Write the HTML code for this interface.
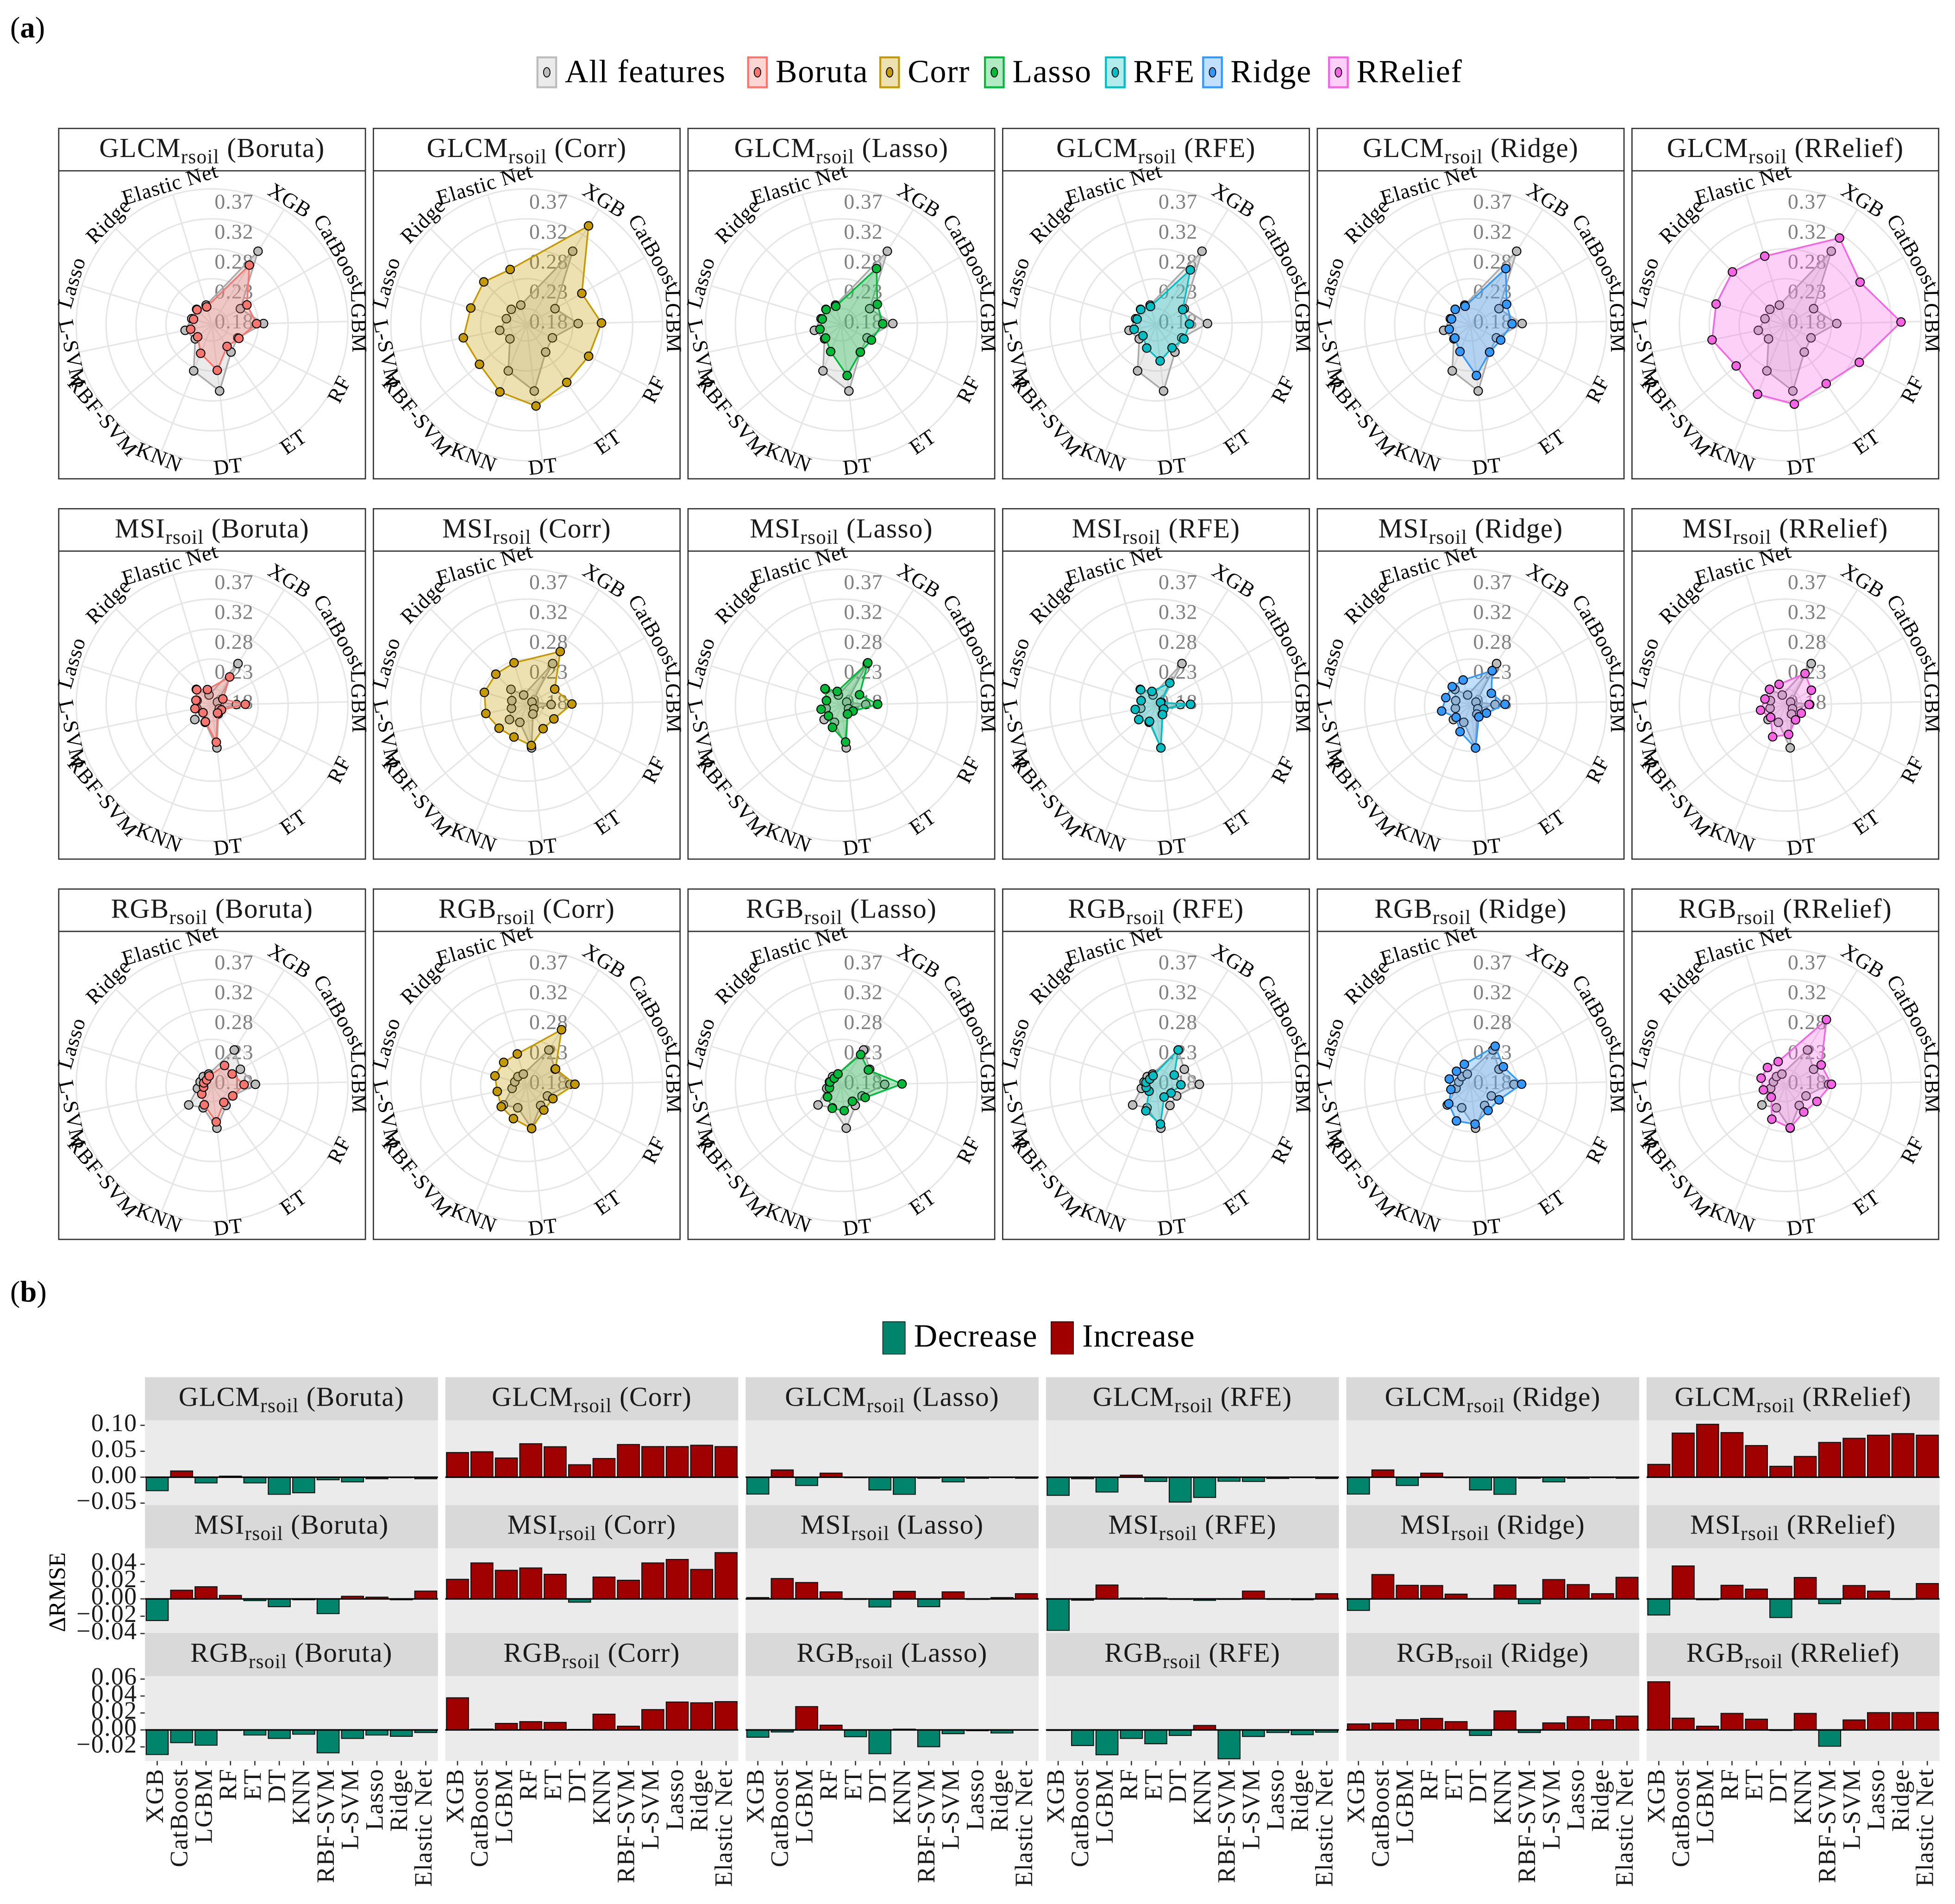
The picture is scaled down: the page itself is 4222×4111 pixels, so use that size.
<!DOCTYPE html>
<html><head><meta charset="utf-8"><title>Radar and ΔRMSE charts</title>
<style>
html,body{margin:0;padding:0;background:#fff;}
svg{display:block;font-family:"Liberation Serif",serif;}
</style></head>
<body>
<svg id="fig" xmlns="http://www.w3.org/2000/svg" width="4222" height="4111" viewBox="0 0 1568 1527">
<rect x="0" y="0" width="1568" height="1527" fill="#fff"/>
<text x="8" y="30" font-size="24">(<tspan font-weight="bold">a</tspan>)</text>
<text x="8" y="1044" font-size="24">(<tspan font-weight="bold">b</tspan>)</text>
<g id="legendA"></g>
<g id="radars"></g>
<g id="legendB"></g>
<g id="bars"></g>
<text x="0" y="0" font-size="19" text-anchor="middle" transform="translate(52,1277) rotate(-90)">ΔRMSE</text>
</svg>
<script>
const models = ['XGB','CatBoost','LGBM','RF','ET','DT','KNN','RBF-SVM','L-SVM','Lasso','Ridge','Elastic Net'];
const methods = ['Boruta','Corr','Lasso','RFE','Ridge','RRelief'];
const datasets = ['GLCM','MSI','RGB'];
const radialBreaks = [0.18, 0.2275, 0.275, 0.3225, 0.37];
const radialLabels = ['0.18','0.23','0.28','0.32','0.37'];

// "All features" RMSE per dataset
const grayGLCM = [0.292,0.206,0.236,0.200,0.207,0.260,0.233,0.189,0.198,0.188,0.189,0.187];
const grayMSI  = [0.232,0.164,0.193,0.167,0.1715,0.2226,0.1837,0.190,0.179,0.179,0.1897,0.171];
const grayRGB  = [0.2206,0.206,0.2231,0.1911,0.193,0.2226,0.1925,0.2026,0.178,0.174,0.174,0.173];

// ΔRMSE (selected features − all features)
const dGLCMBoruta  = [-0.026,0.012,-0.011,0.002,-0.011,-0.033,-0.030,-0.005,-0.009,-0.003,-0.001,-0.003];
const dGLCMCorr    = [0.0475,0.049,0.037,0.0645,0.0587,0.024,0.036,0.063,0.059,0.059,0.0616,0.059];
const dGLCMLasso   = [-0.0325,0.014,-0.016,0.0078,0,-0.0247,-0.033,-0.002,-0.009,-0.002,-0.0005,-0.002];
const dGLCMRFE     = [-0.035,-0.003,-0.0286,0.0039,-0.0082,-0.048,-0.039,-0.0078,-0.0082,-0.0024,-0.0005,-0.0024];
const dGLCMRidge   = [-0.0325,0.014,-0.016,0.0078,0,-0.0247,-0.033,-0.002,-0.009,-0.002,0,-0.002];
const dGLCMRRelief = [0.0247,0.085,0.102,0.086,0.061,0.021,0.040,0.067,0.075,0.081,0.084,0.081];
const dMSIBoruta   = [-0.025,0.010,0.014,0.004,-0.002,-0.009,-0.001,-0.017,0.003,0.002,-0.001,0.009];
const dMSICorr     = [0.0226,0.0415,0.033,0.0357,0.0284,-0.0038,0.0252,0.0215,0.0415,0.0455,0.034,0.0534];
const dMSILasso    = [0.0015,0.0235,0.0189,0.0081,0,-0.0093,0.0087,-0.009,0.0081,0,0.0015,0.006];
const dMSIRFE      = [-0.0363,-0.0015,0.016,0.001,0.001,0,-0.0017,0,0.009,0,-0.001,0.006];
const dMSIRidge    = [-0.0133,0.0281,0.0157,0.0154,0.0055,0.0003,0.016,-0.0055,0.0223,0.0165,0.006,0.0249];
const dMSIRRelief  = [-0.0186,0.038,-0.001,0.0157,0.0113,-0.0215,0.0247,-0.0055,0.0154,0.009,0,0.0177];
const dRGBBoruta   = [-0.029,-0.015,-0.018,0,-0.006,-0.010,-0.005,-0.027,-0.010,-0.006,-0.0075,-0.003];
const dRGBCorr     = [0.0379,0.001,0.0077,0.0098,0.0089,0.0006,0.0186,0.0044,0.024,0.0329,0.032,0.0334];
const dRGBLasso    = [-0.0086,-0.0024,0.0275,0.0056,-0.008,-0.028,0.0009,-0.0198,-0.0044,-0.0009,-0.0036,0.0003];
const dRGBRFE      = [0,-0.0184,-0.0293,-0.01,-0.0163,-0.0065,0.0053,-0.034,-0.0077,-0.003,-0.0056,-0.0027];
const dRGBRidge    = [0.0071,0.008,0.0121,0.0136,0.0098,-0.0065,0.0225,-0.003,0.0083,0.0157,0.0121,0.0163];
const dRGBRRelief  = [0.0568,0.0139,0.0044,0.0195,0.0127,-0.0006,0.0195,-0.0192,0.0118,0.0204,0.0204,0.0207];

const barTicksGLCM = [0.10,0.05,0.00,-0.05];
const barTicksMSI = [0.04,0.02,0.00,-0.02,-0.04];
const barTicksRGB = [0.06,0.04,0.02,0.00,-0.02];
const barTickLabelsGLCM = ['0.10','0.05','0.00','\u22120.05'];
const barTickLabelsMSI = ['0.04','0.02','0.00','\u22120.02','\u22120.04'];
const barTickLabelsRGB = ['0.06','0.04','0.02','0.00','\u22120.02'];

const grays = [grayGLCM, grayMSI, grayRGB];
const deltas = [
  [dGLCMBoruta,dGLCMCorr,dGLCMLasso,dGLCMRFE,dGLCMRidge,dGLCMRRelief],
  [dMSIBoruta,dMSICorr,dMSILasso,dMSIRFE,dMSIRidge,dMSIRRelief],
  [dRGBBoruta,dRGBCorr,dRGBLasso,dRGBRFE,dRGBRidge,dRGBRRelief]
];
const barTicks = [barTicksGLCM, barTicksMSI, barTicksRGB];
const barTickLabels = [barTickLabelsGLCM, barTickLabelsMSI, barTickLabelsRGB];

const colors = ['#F8766D','#C49A00','#00BA38','#00BFC4','#3399FF','#F564E3'];
const NS = 'http://www.w3.org/2000/svg';
function mk(tag, attrs, parent){
  const e = document.createElementNS(NS, tag);
  for (const k in attrs) e.setAttribute(k, attrs[k]);
  if (parent) parent.appendChild(e);
  return e;
}
function titleText(parent, x, y, ds, meth, name){
  const t = mk('text', {x:x, y:y, 'font-size':22, 'letter-spacing':0.5, 'text-anchor':'middle', fill:'#1a1a1a'}, parent);
  
  
  t.appendChild(document.createTextNode(ds));
  const s = mk('tspan', {'font-size':16, dy:5}, t);
  s.textContent = 'rsoil';
  const m = mk('tspan', {dy:-5}, t);
  m.textContent = ' (' + meth + ')';
  return t;
}

// ---------- legend (a)
const legA = document.getElementById('legendA');
const legNames = ['All features'].concat(methods);
const legColors = ['#BDBDBD'].concat(colors);
const legX = [431, 600, 706, 790, 887, 965, 1066];
legNames.forEach((n, i) => {
  const g = mk('g', {}, legA);
  
  
  mk('rect', {x:legX[i], y:46, width:15, height:24, fill:legColors[i], 'fill-opacity':0.3, stroke:legColors[i], 'stroke-width':1.6}, g);
  mk('ellipse', {cx:legX[i]+7.5, cy:58, rx:2.6, ry:3.8, fill:legColors[i], stroke:'#000', 'stroke-width':0.7}, g);
  const t = mk('text', {x:legX[i]+22, y:66, 'font-size':26, 'letter-spacing':0.6}, g);
  t.textContent = n;
});

// ---------- radars
const radars = document.getElementById('radars');
function rScale(v){ return Math.max(0, 13 + (v - 0.18) / 0.19 * 96); }
function ang(i){ return (32 + 28.3 * i) * Math.PI / 180; }
for (let r = 0; r < 3; r++){
  for (let c = 0; c < 6; c++){
    const L = 47 + c * 252.4, T = 103 + r * 305, W = 246;
    const cx = L + 123, cy = T + 157.5;
    const g = mk('g', {}, radars);
    
    
    const tb = mk('rect', {x:L, y:T, width:W, height:34, fill:'#fff', stroke:'#333', 'stroke-width':1}, g);
    
    
    titleText(g, cx, T + 23, datasets[r], methods[c], 'radar-title');
    const pb = mk('rect', {x:L, y:T+34, width:W, height:247, fill:'#fff', stroke:'#333', 'stroke-width':1}, g);
    
    
    radialBreaks.forEach(b => {
      const ci = mk('circle', {cx:cx, cy:cy, r:rScale(b), fill:'none', stroke:'#e6e6e6', 'stroke-width':1.2}, g);
      
      
    });
    models.forEach((m, i) => {
      const a = ang(i);
      const sp = mk('line', {x1:cx, y1:cy, x2:cx + 109*Math.sin(a), y2:cy - 109*Math.cos(a), stroke:'#e6e6e6', 'stroke-width':1.2}, g);
      
      
      const deg = 32 + 28.3 * i;
      let rot = deg;
      if (deg > 90 && deg < 270) rot = deg - 180; else if (deg >= 270) rot = deg - 360;
      const lx = cx + 116*Math.sin(a), ly = cy - 116*Math.cos(a);
      const lt = mk('text', {x:lx, y:ly, 'font-size':17, 'letter-spacing':0.4, 'text-anchor':'middle', 'dominant-baseline':'middle', transform:'rotate(' + rot + ' ' + lx + ' ' + ly + ')'}, g);
      
      
      lt.textContent = m;
    });
    radialBreaks.forEach((b, k) => {
      const t = mk('text', {x:cx + 2, y:cy - (rScale(b) - 12), 'font-size':17, 'letter-spacing':0.4, fill:'#7f7f7f', 'dominant-baseline':'middle'}, g);
      
      
      t.textContent = radialLabels[k];
    });
    const gray = grays[r];
    const sel = gray.map((v, i) => v + deltas[r][c][i]);
    const series = [[gray, '#BDBDBD', '#aaaaaa', 'all-features'], [sel, colors[c], colors[c], methods[c].toLowerCase()]];
    series.forEach(([vals, col, lineCol, nm]) => {
      const pts = vals.map((v, i) => { const a = ang(i), rr = rScale(v); return [cx + rr*Math.sin(a), cy - rr*Math.cos(a)]; });
      const poly = mk('polygon', {points: pts.map(p => p[0].toFixed(2) + ',' + p[1].toFixed(2)).join(' '), fill:col, 'fill-opacity':0.3, stroke:lineCol, 'stroke-width':1.3}, g);
      
      
      pts.forEach((p, i) => {
        const pt = mk('circle', {cx:p[0], cy:p[1], r:3.4, fill:col, stroke:'#000', 'stroke-width':0.8}, g);
        
        
      });
    });
  }
}

// ---------- legend (b)
const legB = document.getElementById('legendB');
[['Decrease', '#00846B', 708], ['Increase', '#A00000', 843]].forEach(([n, col, x]) => {
  const g = mk('g', {}, legB);
  
  
  mk('rect', {x:x, y:1060, width:18, height:26, fill:col, stroke:'#000', 'stroke-width':0.5}, g);
  const t = mk('text', {x:x + 25, y:1080, 'font-size':26, 'letter-spacing':0.5}, g);
  t.textContent = n;
});

// ---------- bars
const bars = document.getElementById('bars');
const rowStrip = [1104.5, 1207.1, 1309.7];
const zeroY = [1184.7, 1282.3, 1387.4];
const pxPerUnit = [416, 695, 680];
for (let r = 0; r < 3; r++){
  const sT = rowStrip[r], pT = sT + 34.6, pB = pT + 68;
  const yS = v => zeroY[r] - v * pxPerUnit[r];
  barTicks[r].forEach((v, k) => {
    const y = yS(v);
    const tk = mk('line', {x1:112.5, x2:116, y1:y, y2:y, stroke:'#333', 'stroke-width':1}, bars);
    
    
    const t = mk('text', {x:110, y:y, 'font-size':20, 'letter-spacing':0.5, 'text-anchor':'end', 'dominant-baseline':'middle', fill:'#1a1a1a'}, bars);
    
    
    t.textContent = barTickLabels[r][k];
  });
  for (let c = 0; c < 6; c++){
    const L = 116.2 + c * 240.9, W = 235;
    const g = mk('g', {}, bars);
    
    
    const st = mk('rect', {x:L, y:sT, width:W, height:34.6, fill:'#D9D9D9'}, g);
    
    
    titleText(g, L + W/2, sT + 23, datasets[r], methods[c], 'facet-strip-title');
    const bg = mk('rect', {x:L, y:pT, width:W, height:68, fill:'#EBEBEB'}, g);
    
    
    const slot = W / 12;
    deltas[r][c].forEach((v, i) => {
      const y0 = yS(0), y1 = yS(v);
      const b = mk('rect', {x:L + (i + 0.05) * slot, y:Math.min(y0, y1), width:slot * 0.9, height:Math.max(0.4, Math.abs(y1 - y0)), fill: v < 0 ? '#00846B' : '#A00000', stroke:'#111', 'stroke-width':0.8}, g);
      
      
    });
    const zl = mk('line', {x1:L, x2:L + W, y1:yS(0), y2:yS(0), stroke:'#000', 'stroke-width':1.2}, g);
    
    
    if (r === 2){
      models.forEach((m, i) => {
        const x = L + (i + 0.5) * slot;
        const tk = mk('line', {x1:x, x2:x, y1:pB, y2:pB + 3.5, stroke:'#333', 'stroke-width':1}, g);
        
        
        const t = mk('text', {x:0, y:0, 'font-size':20, 'letter-spacing':0.6, 'text-anchor':'end', 'dominant-baseline':'middle', fill:'#1a1a1a', transform:'translate(' + x + ',' + (pB + 6) + ') rotate(-90)'}, g);
        
        
        t.textContent = m;
      });
    }
  }
}
</script>
</body></html>
